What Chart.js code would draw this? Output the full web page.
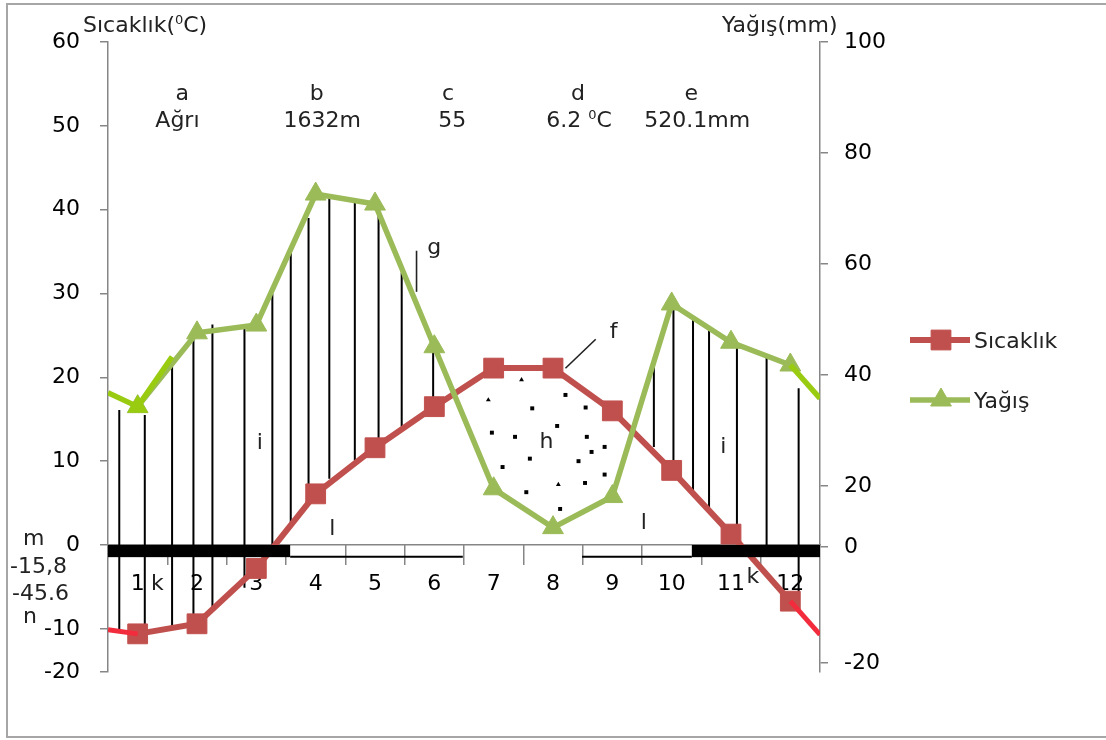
<!DOCTYPE html>
<html><head><meta charset="utf-8">
<script src="https://cdn.jsdelivr.net/npm/chart.js@4/dist/chart.umd.min.js"></script>
<style>html,body{margin:0;padding:0;background:#fff;}canvas{display:block;}</style>
</head><body>
<canvas id="c" width="1106" height="740"></canvas>
<script>
// ---------- data ----------
const months = [1,2,3,4,5,6,7,8,9,10,11,12];
const monthLabels = ['1','2','3','4','5','6','7','8','9','10','11','12'];
const temperature = [-10.6,-9.4,-2.8,6.1,11.6,16.5,21.1,21.1,16.0,8.9,1.3,-6.7];
const precipitation = [34.3,47.6,49.0,72.6,70.8,45.1,19.5,12.5,18.1,52.8,45.9,41.8];
// Dec -> Jan wrap segments at the plot edges
const tempEdgeLeftX = [0.5,1];      const tempEdgeLeftY = [-10.1,-10.6];
const tempEdgeRightX = [12,12.5];   const tempEdgeRightY = [-6.7,-10.7];
const rainEdgeLeftX = [0.5,1,1.58]; const rainEdgeLeftY = [36.8,34.3,43.3];
const rainEdgeRightX = [12,12.5];   const rainEdgeRightY = [41.8,35.8];
// axis ticks
const tempTickValues = [-15.15,-10,0,10,20,30,40,50,60];
const tempTickLabels = ['-20','-10','0','10','20','30','40','50','60'];
const rainTickValues = [-11.9,9,20,40,60,80,100];
const rainTickLabels = ['-20','0','20','40','60','80','100'];
// humid period hatching (month, top °C, bottom °C)
const hatchX = [0.69,1.12,1.58,1.94,2.26,2.80,3.27,3.58,3.88,4.23,4.66,5.06,5.45,5.98,9.70,10.03,10.36,10.63,11.10,11.60,12.14];
const hatchTop = [16.1,15.5,22.3,24.9,26.3,26.3,30.0,35.4,39.0,41.4,40.9,39.6,32.5,23.9,21.5,28.9,27.2,25.9,23.7,22.6,18.7];
const hatchBottom = [-10.3,-10.7,-9.9,-9.3,-7.6,-5.1,0,2.4,4.7,7.9,10.1,11.7,14.1,16.9,11.7,8.2,6.0,4.4,1.6,-1.4,-6.9];
// dry period dots
const dryDotX = [8.21,8.55,7.65,8.07,6.97,7.36,8.57,8.87,8.65,7.61,8.43,7.15,8.87,8.54,7.55,8.12];
const dryDotY = [17.9,16.4,16.3,14.2,13.4,12.9,12.9,11.7,11.1,10.3,10.0,9.3,8.4,7.4,6.3,4.3];
const dryTriX = [7.47,6.91,8.09];
const dryTriY = [19.7,17.3,7.2];
// frost periods (months)
const frostPeriods = [[0.5,3.57],[10.34,12.5]];
const possibleFrostPeriods = [[3.57,6.48],[8.49,10.34]];
// pointer lines (month, °C)
const pointers = [[[5.70,35.1],[5.70,30.2]],[[8.21,21.08],[8.72,24.54]]];

// ---------- annotations (data units) ----------
const FONT = '22px "DejaVu Sans"';
const SUP = '13px "DejaVu Sans"';
const notes = [
  {t:'a',x:1.75,y:53.1},{t:'Ağrı',x:1.67,y:49.9},
  {t:'b',x:4.02,y:53.1},{t:'1632m',x:4.11,y:49.9},
  {t:'c',x:6.23,y:53.1},{t:'55',x:6.30,y:49.9},
  {t:'d',x:8.42,y:53.1},
  {t:'e',x:10.33,y:53.1},{t:'520.1mm',x:10.43,y:49.9},
  {t:'g',x:6.0,y:34.7},{t:'f',x:9.02,y:24.7},{t:'h',x:7.89,y:11.6},
  {t:'i',x:3.06,y:11.45},{t:'i',x:10.87,y:10.97},
  {t:'l',x:4.28,y:1.19},{t:'l',x:9.53,y:1.91},
  {t:'k',x:1.33,y:-5.37},{t:'k',x:11.37,y:-4.53}
];
const leftNotes = [
  {t:'m',x:-0.933,y:0.0},{t:'-15,8',x:-1.152,y:-3.34},
  {t:'-45.6',x:-1.118,y:-6.56},{t:'n',x:-0.933,y:-9.30}
];
const richNotes = [
  {parts:[{t:'6.2 '},{t:'0',sup:true},{t:'C'}],x:8.44,y:49.9,align:'center'},
  {parts:[{t:'Sıcaklık('},{t:'0',sup:true},{t:'C)'}],x:0.079,y:61.2,align:'left'},
  {parts:[{t:'Yağış(mm)'}],x:10.85,y:61.2,align:'left'}
];

const RED = '#c0504d', RED2 = '#f22c3c', GREEN = '#9bbb59', LIME = '#99cc11', AXIS = '#868686', TXT = '#222222';

function pts(xs, ys){ return xs.map((x,i)=>({x:x,y:ys[i]})); }
const hatchData = [];
hatchX.forEach((x,i)=>{ hatchData.push({x:x,y:hatchTop[i]},{x:x,y:hatchBottom[i]},{x:x,y:null}); });

function drawParts(ctx, parts, x, y, align){
  const w = parts.map(p=>{ ctx.font = p.sup?SUP:FONT; return ctx.measureText(p.t).width; });
  const total = w.reduce((a,b)=>a+b,0);
  let cx = align==='center' ? x-total/2 : x;
  ctx.textAlign = 'left';
  parts.forEach((p,i)=>{ ctx.font = p.sup?SUP:FONT; ctx.fillText(p.t, cx, p.sup? y-8 : y); cx += w[i]; });
}

const overlay = {
  id:'overlay',
  beforeDraw(chart){
    const ctx = chart.ctx;
    ctx.save();
    ctx.fillStyle='#fff'; ctx.fillRect(0,0,chart.width,chart.height);
    ctx.strokeStyle='#a6a6a6'; ctx.lineWidth=2;
    ctx.strokeRect(7,4,chart.width+20,733);
    ctx.restore();
  },
  afterDatasetsDraw(chart){
    const ctx = chart.ctx, xs = chart.scales.x, ys = chart.scales.y;
    ctx.save();
    // frost bar on the x axis
    const y0 = ys.getPixelForValue(0), y1 = ys.getPixelForValue(-1.45), yl = ys.getPixelForValue(-1.4);
    ctx.fillStyle = '#000';
    frostPeriods.forEach(p=>{ const a=xs.getPixelForValue(p[0]), b=xs.getPixelForValue(p[1]); ctx.fillRect(a,y0,b-a,y1-y0); });
    ctx.strokeStyle='#000'; ctx.lineWidth=2;
    possibleFrostPeriods.forEach(p=>{ ctx.beginPath(); ctx.moveTo(xs.getPixelForValue(p[0]),yl); ctx.lineTo(xs.getPixelForValue(p[1]),yl); ctx.stroke(); });
    // pointer lines
    ctx.lineWidth=1.6; ctx.strokeStyle='#222';
    pointers.forEach(p=>{ ctx.beginPath(); ctx.moveTo(xs.getPixelForValue(p[0][0]),ys.getPixelForValue(p[0][1])); ctx.lineTo(xs.getPixelForValue(p[1][0]),ys.getPixelForValue(p[1][1])); ctx.stroke(); });
    // notes
    ctx.fillStyle = TXT; ctx.font = FONT; ctx.textBaseline='alphabetic';
    ctx.textAlign='center';
    notes.forEach(n=>ctx.fillText(n.t, xs.getPixelForValue(n.x), ys.getPixelForValue(n.y)));
    ctx.textAlign='left';
    leftNotes.forEach(n=>ctx.fillText(n.t, xs.getPixelForValue(n.x), ys.getPixelForValue(n.y)));
    richNotes.forEach(n=>drawParts(ctx, n.parts, xs.getPixelForValue(n.x), ys.getPixelForValue(n.y), n.align));
    ctx.restore();
  },
  afterDraw(chart){
    const ctx = chart.ctx, ca = chart.chartArea;
    ctx.save();
    const items = [chart.data.datasets[0], chart.data.datasets[2]];
    const offs = [298, 358];
    items.forEach((ds,i)=>{
      const x0 = ca.right + 90, y = ca.top + offs[i];
      ctx.strokeStyle = ds.borderColor; ctx.lineWidth = ds.borderWidth;
      ctx.beginPath(); ctx.moveTo(x0,y); ctx.lineTo(x0+60,y); ctx.stroke();
      ctx.fillStyle = ds.backgroundColor; ctx.lineWidth = 1;
      Chart.helpers.drawPoint(ctx,{pointStyle:ds.pointStyle,radius:ds.pointRadius,borderWidth:1,rotation:0},x0+31,y);
      ctx.fillStyle = TXT; ctx.font = FONT; ctx.textAlign='left'; ctx.textBaseline='alphabetic';
      ctx.fillText(ds.label, x0+64, y+8);
    });
    ctx.restore();
  }
};

const tickFont = {family:'DejaVu Sans', size:22};

new Chart(document.getElementById('c'), {
  type:'line',
  data:{ datasets:[
    {label:'Sıcaklık', data:pts(months,temperature), yAxisID:'y', borderColor:RED, backgroundColor:RED,
     borderWidth:6, pointStyle:'rect', pointRadius:14, pointBorderWidth:1, tension:0, order:4},
    {label:'edgeT', data:pts(tempEdgeLeftX,tempEdgeLeftY), yAxisID:'y', borderColor:RED2, borderWidth:5, pointRadius:0, order:3},
    {label:'Yağış', data:pts(months,precipitation), yAxisID:'y1', borderColor:GREEN, backgroundColor:GREEN,
     borderWidth:5.5, pointStyle:'triangle', pointRadius:12, pointBorderWidth:1, tension:0, order:2},
    {label:'edgeT2', data:pts(tempEdgeRightX,tempEdgeRightY), yAxisID:'y', borderColor:RED2, borderWidth:5, pointRadius:0, order:3},
    {label:'edgeR', data:pts(rainEdgeLeftX,rainEdgeLeftY), yAxisID:'y1', borderColor:LIME, backgroundColor:LIME, borderWidth:5.5,
     pointStyle:'triangle', pointRadius:[0,12,0], pointBorderWidth:0, order:1},
    {label:'edgeR2', data:pts(rainEdgeRightX,rainEdgeRightY), yAxisID:'y1', borderColor:LIME, borderWidth:5.5, pointRadius:0, order:1},
    {label:'hatch', data:hatchData, yAxisID:'y', borderColor:'#000', borderWidth:2, pointRadius:0, spanGaps:false, order:6},
    {label:'dots', type:'scatter', data:pts(dryDotX,dryDotY), yAxisID:'y', pointStyle:'rect', pointRadius:2.8, backgroundColor:'#000', borderWidth:0, order:5},
    {label:'dotsT', type:'scatter', data:pts(dryTriX,dryTriY), yAxisID:'y', pointStyle:'triangle', pointRadius:2.8, backgroundColor:'#000', borderWidth:0, order:5}
  ]},
  options:{
    responsive:false, animation:false, devicePixelRatio:1, events:[],
    layout:{padding:{left:0,right:0,top:42,bottom:68}},
    plugins:{legend:{display:false}, tooltip:{enabled:false}},
    scales:{
      x:{type:'linear', min:0.5, max:12.5, position:{y:0},
         afterBuildTicks:s=>{ s.ticks = months.map(v=>({value:v})); },
         ticks:{callback:(v,i)=>monthLabels[i], font:tickFont, color:'#000', padding:26, maxRotation:0, autoSkip:false},
         grid:{display:false, drawTicks:false},
         border:{display:true, color:AXIS, width:1.5}},
      xb:{type:'linear', min:0.5, max:12.5, position:{y:0},
         afterBuildTicks:s=>{ s.ticks = months.slice(0,-1).map(v=>({value:v+0.5})); },
         ticks:{display:false},
         grid:{display:true, drawOnChartArea:false, drawTicks:true, tickLength:20, color:AXIS, lineWidth:1.5},
         border:{display:false}},
      y:{type:'linear', position:'left', min:-15.15, max:60,
         afterBuildTicks:s=>{ s.ticks = tempTickValues.map(v=>({value:v})); },
         afterFit:s=>{ s.width = 108; },
         ticks:{callback:(v,i)=>tempTickLabels[i], font:tickFont, color:'#000', padding:20},
         grid:{drawOnChartArea:false, drawTicks:true, tickLength:8, color:AXIS, lineWidth:1.5},
         border:{display:true, color:AXIS, width:1.5}},
      y1:{type:'linear', position:'right', min:-13.51, max:100,
         afterBuildTicks:s=>{ s.ticks = rainTickValues.map(v=>({value:v})); },
         afterFit:s=>{ s.width = 286; },
         ticks:{callback:(v,i)=>rainTickLabels[i], font:tickFont, color:'#000', padding:16},
         grid:{drawOnChartArea:false, drawTicks:true, tickLength:8, color:AXIS, lineWidth:1.5},
         border:{display:true, color:AXIS, width:1.5}}
    }
  },
  plugins:[overlay]
});
</script>
</body></html>
